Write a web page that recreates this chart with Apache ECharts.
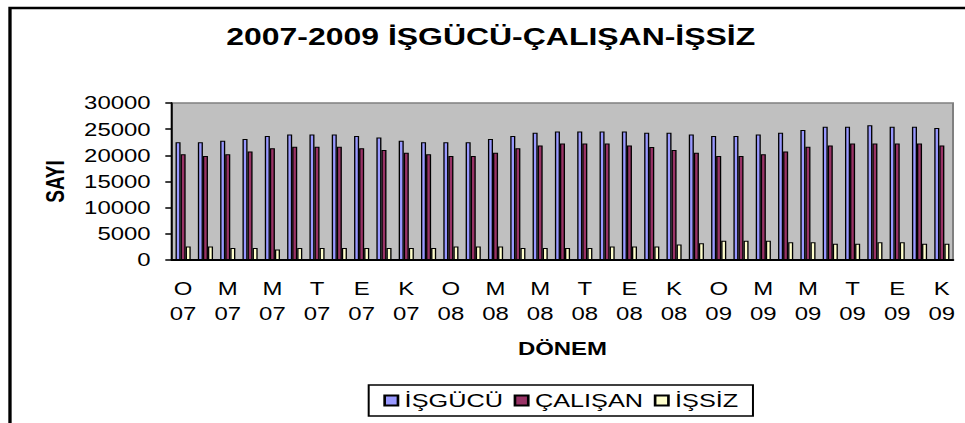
<!DOCTYPE html>
<html>
<head>
<meta charset="utf-8">
<script src="https://cdn.jsdelivr.net/npm/echarts@6/dist/echarts.min.js"></script>
<style>
  html, body { margin: 0; padding: 0; background: #fff; overflow: hidden; }
  /* the original picture is stretched sideways, so the chart is drawn narrow and widened */
  #chart { width: 725px; height: 423px; transform: scaleX(1.331); transform-origin: 0 0; }
</style>
</head>
<body>
<div id="chart"></div>
<script>
// dönemler: Ocak 2007 - Kasım 2009
const donemler = [
  'O\n07', 'Ş\n07', 'M\n07', 'N\n07', 'M\n07', 'H\n07', 'T\n07', 'A\n07', 'E\n07', 'E\n07', 'K\n07', 'A\n07',
  'O\n08', 'Ş\n08', 'M\n08', 'N\n08', 'M\n08', 'H\n08', 'T\n08', 'A\n08', 'E\n08', 'E\n08', 'K\n08', 'A\n08',
  'O\n09', 'Ş\n09', 'M\n09', 'N\n09', 'M\n09', 'H\n09', 'T\n09', 'A\n09', 'E\n09', 'E\n09', 'K\n09'
];

const isgucu = [
  22500, 22500, 22800, 23100, 23700, 24000, 24000, 24000, 23700, 23400, 22800, 22500,
  22500, 22500, 23100, 23700, 24300, 24550, 24550, 24550, 24550, 24300, 24300, 24000,
  23700, 23700, 24000, 24300, 24850, 25450, 25450, 25750, 25450, 25450, 25200
];

const calisan = [
  20200, 19850, 20200, 20750, 21350, 21650, 21650, 21650, 21350, 21000, 20500, 20200,
  19850, 19850, 20500, 21350, 21900, 22250, 22250, 22250, 21900, 21600, 21000, 20500,
  19850, 19850, 20200, 20750, 21650, 21900, 22250, 22250, 22250, 22250, 21900
];

const issiz = [
  2600, 2600, 2300, 2300, 2000, 2300, 2300, 2300, 2300, 2300, 2300, 2300,
  2600, 2600, 2600, 2300, 2300, 2300, 2300, 2600, 2600, 2600, 2950, 3200,
  3700, 3700, 3700, 3400, 3400, 3100, 3100, 3400, 3400, 3100, 3100
];

const yTicks = [0, 5000, 10000, 15000, 20000, 25000, 30000];

const font = "'Liberation Sans', Arial, sans-serif";
const chart = echarts.init(document.getElementById('chart'), null, { renderer: 'svg' });

function barSeries(name, data, color) {
  return {
    name: name,
    type: 'bar',
    data: data,
    barGap: '0%',
    barCategoryGap: '32%',
    itemStyle: { color: color, borderColor: '#000', borderWidth: 1 }
  };
}

const options = {
  animation: false,
  backgroundColor: '#fff',
  textStyle: { fontFamily: font, color: '#000' },
  title: {
    text: '2007-2009 İŞGÜCÜ-ÇALIŞAN-İŞSİZ',
    left: 170,
    top: 24,
    padding: 0,
    textStyle: { fontFamily: font, fontSize: 24, fontWeight: 'bold', color: '#000' }
  },
  graphic: [{
    type: 'rect',
    shape: { x: 7.5, y: 8, width: 900, height: 600 },
    style: { fill: 'none', stroke: '#000', lineWidth: 2.5 },
    silent: true
  }],
  legend: {
    left: 277,
    top: 385,
    padding: [6, 11],
    itemGap: 8,
    itemWidth: 10,
    itemHeight: 10,
    icon: 'rect',
    borderColor: '#000',
    borderWidth: 1.5,
    textStyle: { fontFamily: font, fontSize: 19, color: '#000' },
    data: ['İŞGÜCÜ', 'ÇALIŞAN', 'İŞSİZ']
  },
  grid: {
    left: 129.2,
    right: 9,
    top: 103,
    bottom: 163,
    show: true,
    backgroundColor: '#C0C0C0',
    borderColor: '#808080',
    borderWidth: 1.5
  },
  xAxis: {
    type: 'category',
    data: donemler,
    name: 'DÖNEM',
    nameLocation: 'middle',
    nameGap: 80,
    nameTextStyle: { fontFamily: font, fontSize: 18, fontWeight: 'bold', color: '#000' },
    axisLine: { lineStyle: { color: '#000', width: 2 } },
    axisTick: { interval: 0, length: 5, lineStyle: { color: '#000', width: 1.5 } },
    axisLabel: {
      interval: 1,
      margin: 16,
      fontFamily: font,
      fontSize: 18,
      lineHeight: 25,
      color: '#000'
    }
  },
  yAxis: {
    type: 'value',
    min: yTicks[0],
    max: yTicks[yTicks.length - 1],
    interval: yTicks[1] - yTicks[0],
    name: 'SAYI',
    nameLocation: 'middle',
    nameGap: 78,
    nameRotate: 90,
    nameTextStyle: { fontFamily: font, fontSize: 19, fontWeight: 'bold', color: '#000' },
    splitLine: { show: false },
    axisLine: { show: true, lineStyle: { color: '#000', width: 1.5 } },
    axisTick: { show: true, length: 5, lineStyle: { color: '#000', width: 1.5 } },
    axisLabel: {
      margin: 16,
      fontFamily: font,
      fontSize: 18,
      color: '#000',
      formatter: v => String(v)
    }
  },
  series: [
    barSeries('İŞGÜCÜ', isgucu, '#9999FF'),
    barSeries('ÇALIŞAN', calisan, '#993366'),
    barSeries('İŞSİZ', issiz, '#FFFFCC')
  ]
};

chart.setOption(options);
</script>
</body>
</html>
